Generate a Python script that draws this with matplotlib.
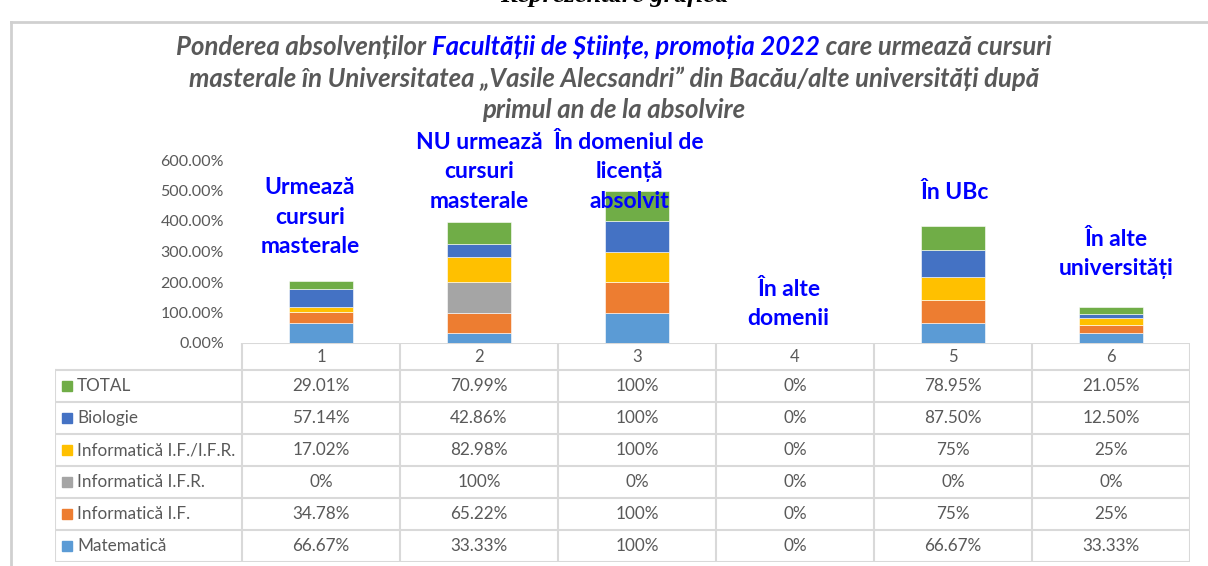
import numpy as np
import matplotlib.pyplot as plt

W, H = 1208, 566

categories = ['1', '2', '3', '4', '5', '6']
series = ['Matematică', 'Informatică I.F.', 'Informatică I.F.R.',
          'Informatică I.F./I.F.R.', 'Biologie', 'TOTAL']
colors = ['#5B9BD5', '#ED7D31', '#A5A5A5', '#FFC000', '#4472C4', '#70AD47']

matematica = [66.67, 33.33, 100, 0, 66.67, 33.33]
info_if = [34.78, 65.22, 100, 0, 75, 25]
info_ifr = [0, 100, 0, 0, 0, 0]
info_if_ifr = [17.02, 82.98, 100, 0, 75, 25]
biologie = [57.14, 42.86, 100, 0, 87.50, 12.50]
total = [29.01, 70.99, 100, 0, 78.95, 21.05]

# texts as shown in the table cells
matematica_txt = ['66.67%', '33.33%', '100%', '0%', '66.67%', '33.33%']
info_if_txt = ['34.78%', '65.22%', '100%', '0%', '75%', '25%']
info_ifr_txt = ['0%', '100%', '0%', '0%', '0%', '0%']
info_if_ifr_txt = ['17.02%', '82.98%', '100%', '0%', '75%', '25%']
biologie_txt = ['57.14%', '42.86%', '100%', '0%', '87.50%', '12.50%']
total_txt = ['29.01%', '70.99%', '100%', '0%', '78.95%', '21.05%']

bar_labels = ['Urmează\ncursuri\nmasterale', 'NU urmează\ncursuri\nmasterale',
              'În domeniul de\nlicență\nabsolvit', 'În alte\ndomenii',
              'În UBc', 'În alte\nuniversități']

values = [matematica, info_if, info_ifr, info_if_ifr, biologie, total]
texts = [matematica_txt, info_if_txt, info_ifr_txt, info_if_ifr_txt, biologie_txt, total_txt]

FONT = ['Lato', 'DejaVu Sans']
GRAY = '#595959'
BLUE = '#0000FF'
LINE = '#d9d9d9'
plt.rcParams['font.family'] = FONT

fig = plt.figure(figsize=(W / 100, H / 100), dpi=100)

# outer frame
frame = fig.add_axes([0, 0, 1, 1])
frame.set_xlim(0, W)
frame.set_ylim(H, 0)
frame.axis('off')
frame.plot([11, W], [22, 22], color='#d0d0d0', lw=2)
frame.plot([11, 11], [22, H], color='#d0d0d0', lw=2)
frame.text(614, 2, 'Reprezentare grafică', family='Liberation Serif', weight='bold',
           style='italic', fontsize=19, ha='center', va='baseline', color='black')

# bars
ax = fig.add_axes([242 / W, (H - 343) / H, 948 / W, 183 / H])
x = np.arange(len(categories))
bottom = np.zeros(len(categories))
for vals, col, name in zip(values, colors, series):
    ax.bar(x, vals, 0.4, bottom=bottom, color=col, label=name,
           edgecolor='white', linewidth=0.4)
    bottom += np.array(vals)
ax.set_xlim(-0.5, len(categories) - 0.5)
ax.set_ylim(0, 600)
ax.set_yticks(np.arange(0, 601, 100))
ax.set_yticklabels([f'{v:.2f}%' for v in np.arange(0, 601, 100)])
ax.tick_params(axis='y', length=0, pad=13, labelsize=11.5, labelcolor=GRAY)
ax.set_xticks([])
for s in ax.spines.values():
    s.set_visible(False)

label_pos = [(-0.07, 413), (0.0, 561), (-0.05, 561), (-0.04, 128), (0.01, 492), (0.03, 292)]
for i, (lab, (dx, yv)) in enumerate(zip(bar_labels, label_pos)):
    ax.text(x[i] + dx, yv, lab, ha='center', va='center', color=BLUE,
            fontsize=16.5, weight='bold', linespacing=1.5, clip_on=False)

# data table
left_units = 187 / 158
tax = fig.add_axes([55 / W, (H - 562) / H, 1135 / W, 219 / H])
xl = -0.5 - left_units
tax.set_xlim(xl, 5.5)
hdr = 27 / 32
nrow = len(series)
tax.set_ylim(hdr + nrow, 0)
tax.axis('off')

tax.plot([-0.5, 5.5], [0, 0], color=LINE, lw=1.5)
for r in range(nrow + 1):
    tax.plot([xl, 5.5], [hdr + r, hdr + r], color=LINE, lw=1.5)
for k in range(len(categories) + 1):
    tax.plot([-0.5 + k, -0.5 + k], [0, hdr + nrow], color=LINE, lw=1.5)
tax.plot([xl, xl], [hdr, hdr + nrow], color=LINE, lw=1.5)

for i, c in enumerate(categories):
    tax.text(x[i], hdr / 2, c, ha='center', va='center', color=GRAY, fontsize=12)

for r, idx in enumerate(range(nrow - 1, -1, -1)):
    yc = hdr + r + 0.5
    tax.plot([xl + 0.076], [yc], marker='s', markersize=7.5, color=colors[idx], lw=0)
    tax.text(xl + 0.139, yc, series[idx], ha='left', va='center', color=GRAY, fontsize=12.3)
    for i in range(len(categories)):
        tax.text(x[i], yc, texts[idx][i], ha='center', va='center', color=GRAY, fontsize=12.3)

# title with mixed colours
title_lines = [
    [('Ponderea absolvenților ', GRAY), ('Facultății de Științe, promoția 2022', BLUE),
     (' care urmează cursuri', GRAY)],
    [('masterale în Universitatea „Vasile Alecsandri” din Bacău/alte universități după', GRAY)],
    [('primul an de la absolvire', GRAY)],
]
title_y = [47, 79, 110]
renderer = fig.canvas.get_renderer()
for parts, yy in zip(title_lines, title_y):
    objs = []
    for txt, col in parts:
        t = frame.text(0, yy, txt, color=col, fontsize=18.5, weight='bold',
                       style='italic', ha='left', va='center')
        objs.append(t)
    widths = [t.get_window_extent(renderer).width for t in objs]
    xs = 614 - sum(widths) / 2
    for t, w in zip(objs, widths):
        t.set_x(xs)
        xs += w

fig.savefig('out.png', dpi=100)
